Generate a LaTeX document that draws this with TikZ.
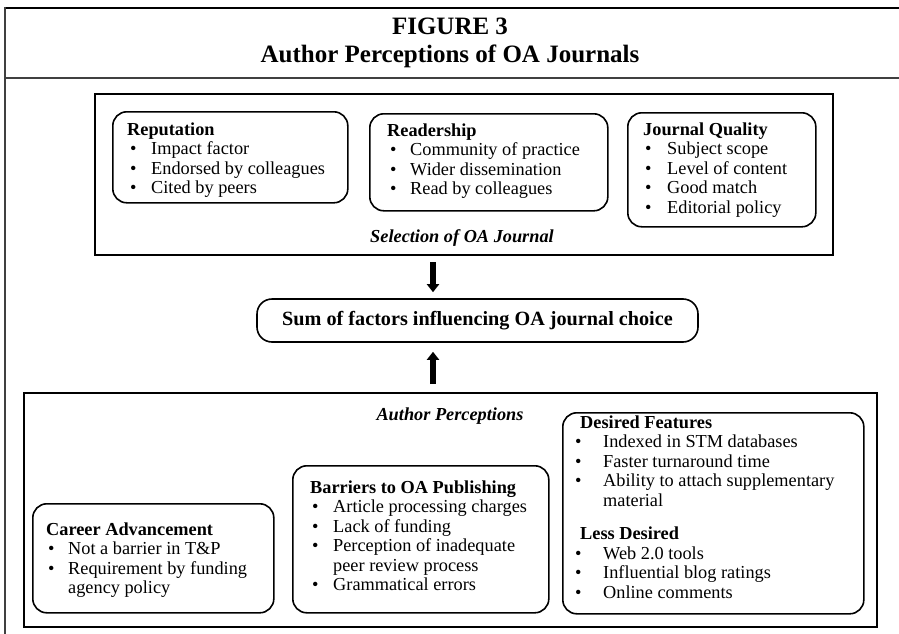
\documentclass[tikz,border=0pt]{standalone}
\usepackage{fontspec}
\setmainfont{Liberation Serif}
\usetikzlibrary{arrows.meta}
\newcommand\bodyfont{\fontsize{18.3}{19.5}\selectfont}
\newcommand\blist[3]{\begin{tabular}[t]{@{\hspace{#1}}p{#2}@{}l@{}}#3\end{tabular}}
\newcommand\hd[1]{\multicolumn{2}{@{}l@{}}{\textbf{#1}}}
\tikzset{
  frameline/.style={line width=2pt, draw=black!75},
  panel/.style={draw, line width=2pt, anchor=north west, inner sep=0pt},
  rbox/.style={draw, line width=1.6pt, rounded corners=14pt, anchor=north west, inner sep=0pt},
  listtext/.style={anchor=base west, inner sep=0pt, font=\bodyfont},
  bigarrow/.style={line width=6pt, -{Triangle[length=8pt,width=12pt]}},
}
\begin{document}
\begin{tikzpicture}[x=1pt,y=-1pt]
\useasboundingbox (0,0) rectangle (899,634);
% outer frame
\draw[line width=2pt] (5,8) -- (899,8);
\draw[frameline] (5,78) -- (899,78);
\draw[frameline] (5,7) -- (5,634);
\node[anchor=base, inner sep=0pt, font=\fontsize{25}{28}\selectfont\bfseries] (title) at (450,35)
  {\begin{tabular}[t]{@{}c@{}}FIGURE 3\\Author Perceptions of OA Journals\end{tabular}};
% top panel
\node[panel, minimum width=738pt, minimum height=161pt] (sel) at (94,93) {};
\node[rbox, minimum width=235pt, minimum height=91pt] (rep) at (112,111) {};
\node[rbox, minimum width=238pt, minimum height=97pt] (read) at (369,113) {};
\node[rbox, minimum width=188pt, minimum height=114pt] (jq) at (627,112) {};
\node[listtext] (reptext) at (127,135) {\blist{3pt}{21pt}{\hd{Reputation}\\
  \textbullet & Impact factor\\ \textbullet & Endorsed by colleagues\\ \textbullet & Cited by peers}};
\node[listtext] (readtext) at (387,136) {\blist{3pt}{20pt}{\hd{Readership}\\
  \textbullet & Community of practice\\ \textbullet & Wider dissemination\\ \textbullet & Read by colleagues}};
\node[listtext] (jqtext) at (643,135) {\blist{2pt}{22pt}{\hd{Journal Quality}\\
  \textbullet & Subject scope\\ \textbullet & Level of content\\ \textbullet & Good match\\ \textbullet & Editorial policy}};
\node[anchor=base, inner sep=0pt, font=\bodyfont\bfseries\itshape] (sellabel) at (462,242) {Selection of OA Journal};
% sum box
\node[draw, line width=1.6pt, rounded corners=15pt, minimum width=441pt, minimum height=43pt, inner sep=0pt,
  font=\fontsize{20.2}{22}\selectfont\bfseries] (sum) at (477.5,320.5) {Sum of factors influencing OA journal choice};
% lower panel
\node[panel, minimum width=853pt, minimum height=234pt] (perc) at (23,392) {};
\node[anchor=base, inner sep=0pt, font=\bodyfont\bfseries\itshape] (perclabel) at (450,420) {Author Perceptions};
\node[rbox, minimum width=241pt, minimum height=109pt] (career) at (32,503) {};
\node[rbox, minimum width=256pt, minimum height=147pt] (barr) at (292,465) {};
\node[rbox, minimum width=301pt, minimum height=201pt] (des) at (562,412) {};
\node[listtext] (careertext) at (46,535) {\blist{2pt}{20pt}{\hd{Career Advancement}\\
  \textbullet & Not a barrier in T\&P\\ \textbullet & Requirement by funding\\ & agency policy}};
\node[listtext] (barrtext) at (310,493) {\blist{2pt}{21pt}{\hd{Barriers to OA Publishing}\\
  \textbullet & Article processing charges\\ \textbullet & Lack of funding\\
  \textbullet & Perception of inadequate\\ & peer review process\\ \textbullet & Grammatical errors}};
\node[listtext] (destext) at (580,428) {\blist{-5pt}{28pt}{\hd{Desired Features}\\
  \textbullet & Indexed in STM databases\\ \textbullet & Faster turnaround time\\
  \textbullet & Ability to attach supplementary\\ & material\\[14pt]
  \hd{Less Desired}\\
  \textbullet & Web 2.0 tools\\ \textbullet & Influential blog ratings\\ \textbullet & Online comments}};
% arrows
\coordinate (ax) at (433,0);
\draw[bigarrow] ([yshift=-6pt]sel.south -| ax) -- ([yshift=6pt]sum.north -| ax);
\draw[bigarrow] ([yshift=8pt]perc.north -| ax) -- ([yshift=-9pt]sum.south -| ax);
\end{tikzpicture}
\end{document}
